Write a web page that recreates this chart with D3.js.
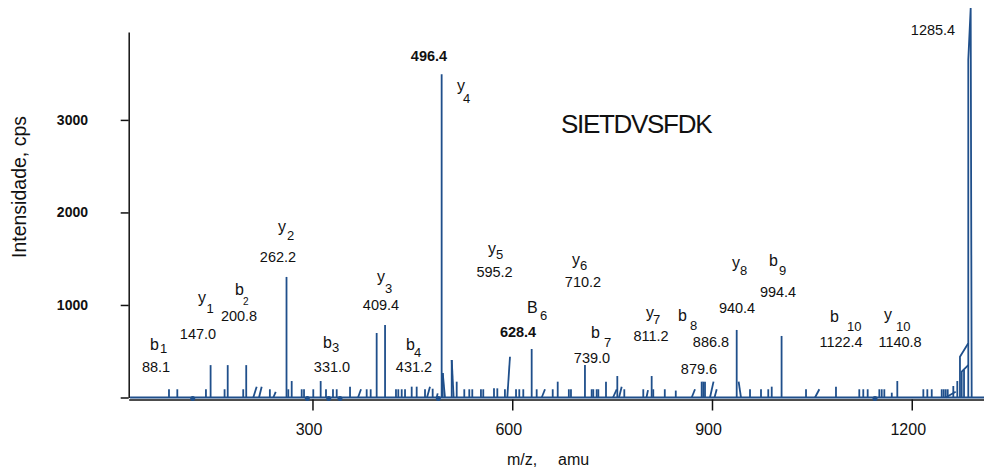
<!DOCTYPE html>
<html>
<head>
<meta charset="utf-8">
<script src="https://cdn.jsdelivr.net/npm/d3@7"></script>
<style>
  body { margin: 0; background: #fff; }
  svg { display: block; font-family: "Liberation Sans", Arial, sans-serif; }
</style>
</head>
<body>
<svg id="chart" width="984" height="469"></svg>
<script>
// --- spectrum data (m/z, intensity in cps) ---
const sticks = [
  [84.5, 89], [97, 89], [140, 89], [147, 350], [168, 89], [172.7, 350], [196, 89], [200.5, 350],
  [236, 89], [261, 1303], [263.7, 89], [268.8, 178], [283.8, 89], [287.3, 89], [301.2, 89],
  [312.3, 178], [320.3, 89], [330.8, 89], [336.4, 89], [356.4, 117], [381.4, 89], [387.4, 89],
  [396.4, 697], [409, 784], [425.4, 89], [428.9, 89], [434, 89], [439, 89], [449, 117], [456.5, 117],
  [469, 89], [480.5, 95], [494, 3494], [495.6, 265], [509.1, 405], [516.6, 171], [528, 89],
  [535.5, 89], [540, 89], [553, 89], [556.5, 89], [572.6, 99], [577.6, 99], [589, 89], [605.7, 89],
  [610.6, 89], [616.6, 89], [629.2, 524], [636.7, 89], [660.8, 89], [668.3, 171], [685, 89],
  [688.2, 89], [709.2, 351], [719.3, 89], [721.7, 89], [726.8, 89], [729.3, 89], [740.8, 171],
  [757.8, 232], [768.3, 89], [796.8, 89], [809.4, 232], [811.8, 89], [829.1, 89], [845.6, 75],
  [884.5, 171], [886.9, 171], [889.5, 171], [937.1, 730], [957.1, 89], [973.6, 89], [984.5, 89],
  [989.7, 117], [1004.5, 665], [1041.2, 89], [1086.2, 117], [1121.2, 89], [1127.2, 89],
  [1133.8, 89], [1151.3, 89], [1154.9, 89], [1158.8, 89], [1170, 52], [1178.3, 178],
  [1217.4, 89], [1223.4, 89], [1230, 89], [1245, 89], [1248, 89], [1251, 89], [1254, 89],
  [1262.4, 124], [1268.4, 178], [1278.5, 297], [1284.9, 586]
];
// leaning segments: [m/z at baseline, m/z at top, intensity]
const leans = [
  [211.1, 216.2, 117], [219.7, 223.7, 117], [241.2, 244.8, 60], [368.4, 372.9, 89],
  [472, 476.5, 117], [486.5, 488, 45], [499, 495.6, 265], [512, 509.1, 405], [592.6, 596.6, 441],
  [644.3, 649.2, 89], [751.3, 756.9, 89], [760.3, 764.4, 117], [801.6, 803.9, 80],
  [869.5, 874.5, 89], [897, 902.3, 171], [903.8, 907.1, 89], [943.5, 940, 171],
  [1054.7, 1061.2, 89], [1250.9, 1266, 63]
];
// traces around the precursor peak
const precursorTrace = [[1272.4, 0], [1272.4, 441], [1284.9, 586], [1284.9, 3650], [1288.5, 4210], [1290, 0]];
const precursorShoulder = [[1275, 0], [1275, 279], [1284.9, 351]];
const baseDots = [120.1, 292.2, 324.4, 341.3, 489, 1144.8];
const baselineRange = [26, 1308.5];

// --- annotations ---
const ionLetters = ["b", "y", "b", "y", "b", "y", "b", "y", "y", "y", "B", "b", "y", "b", "y", "b", "b", "y"];
const ionSubs = ["1", "1", "2", "2", "3", "3", "4", "4", "5", "6", "6", "7", "7", "8", "8", "9", "10", "10"];
const ionMz = [56.0, 128.1, 183.6, 248.2, 315.8, 396.9, 440.5, 517.0, 563.6, 689.7, 622.3, 718.3, 800.9, 849.0, 930.1, 985.6, 1077.3, 1158.4];
const ionLevel = [513, 1022, 1108, 1789, 535, 1249, 513, 3314, 1551, 1432, 908, 638, 860, 822, 1400, 1416, 816, 838];

const massText = ["88.1", "147.0", "200.8", "262.2", "331.0", "409.4", "431.2", "496.4", "595.2", "710.2", "628.4", "739.0", "811.2", "886.8", "879.6", "940.4", "994.4", "1122.4", "1140.8", "1285.4"];
const massMz = [65.0, 128.1, 189.7, 248.2, 329.3, 402.9, 452.5, 475.0, 573.4, 706.3, 608.7, 719.8, 808.4, 898.5, 880.5, 937.6, 999.2, 1093.8, 1182.4, 1231.9];
const massLevel = [276, 632, 827, 1465, 276, 946, 276, 3638, 1305, 1198, 654, 373, 614, 546, 254, 914, 1087, 546, 546, 3919];

const peptide = "SIETDVSFDK";
const peptideAt = [673.2, 2858];

const xTicks = [300, 600, 900, 1200];
const yTicks = [0, 1000, 2000, 3000];

// subscript offsets (px) relative to the ion letter
const subDx = [10, 8.5, 8, 9, 9, 8, 8, 6, 8, 8, 13, 13, 7, 12, 8, 10, 17, 12];
const subDy = [3, 10, 10, 8, 4, 11, 7, 12, 5, 5, 7, 9, 6, 9, 7, 9, 9, 11];
const boldMasses = new Set(["496.4", "628.4"]);

const blue = "#1f4f8b";
const ink = "#111";

const svg = d3.select("#chart");
const x = d3.scaleLinear().domain([24, 1310]).range([128.7, 985]);
const y = d3.scaleLinear().domain([0, 3950]).range([397.5, 32]);

// --- axes ---
const yAxisG = svg.append("g")
  .attr("transform", "translate(128.7,0)")
  .call(d3.axisLeft(y).tickValues(yTicks).tickSize(8).tickSizeOuter(0).tickPadding(32.7)
    .tickFormat((d) => (d === 0 ? "" : String(d))));
yAxisG.attr("font-family", null).attr("font-size", 14).attr("font-weight", "bold");
yAxisG.selectAll("line, path").attr("stroke", ink).attr("stroke-width", 1.5);
yAxisG.selectAll("text").attr("fill", ink);

const xAxisG = svg.append("g")
  .attr("transform", "translate(0,399.5)")
  .call(d3.axisBottom(x).tickValues(xTicks).tickSize(11).tickSizeOuter(0).tickPadding(13)
    .tickFormat((d) => String(d)));
xAxisG.attr("font-family", null).attr("font-size", 16);
xAxisG.selectAll("line, path").attr("stroke", ink).attr("stroke-width", 1.5);
xAxisG.selectAll("text").attr("fill", ink).attr("dx", -4);

// --- spectrum ---
const spec = svg.append("g").attr("stroke", blue).attr("fill", "none").attr("stroke-width", 1.8);

spec.append("line")
  .attr("x1", x(baselineRange[0])).attr("x2", x(baselineRange[1]))
  .attr("y1", y(0)).attr("y2", y(0))
  .attr("stroke-width", 2);

spec.selectAll("line.stick")
  .data(sticks)
  .join("line")
  .attr("class", "stick")
  .attr("x1", (d) => x(d[0])).attr("x2", (d) => x(d[0]))
  .attr("y1", y(0)).attr("y2", (d) => y(d[1]));

spec.selectAll("line.lean")
  .data(leans)
  .join("line")
  .attr("class", "lean")
  .attr("x1", (d) => x(d[0])).attr("x2", (d) => x(d[1]))
  .attr("y1", y(0)).attr("y2", (d) => y(d[2]));

const trace = d3.line().x((d) => x(d[0])).y((d) => y(d[1]));
spec.append("path").attr("d", trace(precursorTrace));
spec.append("path").attr("d", trace(precursorShoulder));

svg.append("g").attr("fill", blue)
  .selectAll("circle")
  .data(baseDots)
  .join("circle")
  .attr("cx", (d) => x(d))
  .attr("cy", y(0) + 1)
  .attr("r", 2.5);

// --- annotations ---
const ann = svg.append("g").attr("fill", ink);

ionLetters.forEach((t, i) => {
  const ax = x(ionMz[i]);
  const ay = y(ionLevel[i]);
  ann.append("text").attr("x", ax).attr("y", ay).attr("font-size", 16).text(t);
  ann.append("text")
    .attr("x", ax + subDx[i]).attr("y", ay + subDy[i])
    .attr("font-size", ionSubs[i] === "2" && t === "b" ? 10 : 13)
    .text(ionSubs[i]);
});

massText.forEach((t, i) => {
  ann.append("text")
    .attr("x", x(massMz[i])).attr("y", y(massLevel[i]))
    .attr("text-anchor", "middle")
    .attr("font-size", 14.5)
    .attr("font-weight", boldMasses.has(t) ? "bold" : null)
    .text(t);
});

ann.append("text")
  .attr("x", x(peptideAt[0])).attr("y", y(peptideAt[1]))
  .attr("font-size", 26)
  .attr("letter-spacing", -1.3)
  .text(peptide);

// --- axis titles ---
svg.append("text")
  .attr("transform", "translate(26,187) rotate(-90)")
  .attr("text-anchor", "middle")
  .attr("font-size", 19.5)
  .attr("fill", ink)
  .text("Intensidade, cps");

svg.append("text").attr("x", 507).attr("y", 465).attr("font-size", 16).attr("fill", ink).text("m/z,");
svg.append("text").attr("x", 558).attr("y", 465).attr("font-size", 16).attr("fill", ink).text("amu");
</script>
</body>
</html>
